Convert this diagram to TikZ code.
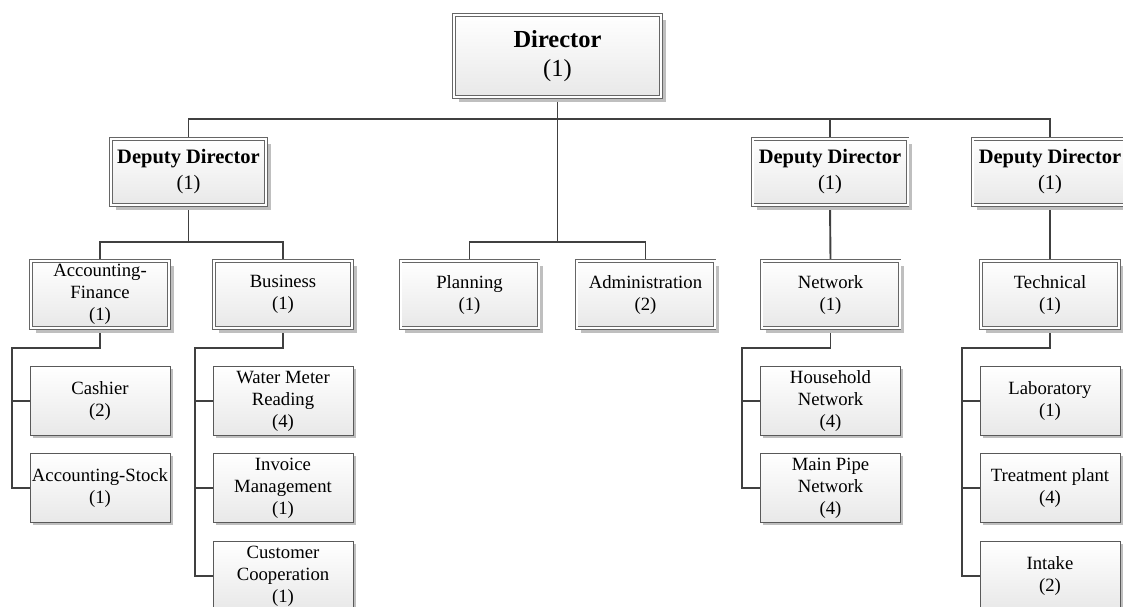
\documentclass[tikz,border=0pt]{standalone}
\usepackage{fontspec}
\setmainfont{Liberation Serif}
\usetikzlibrary{shadows,backgrounds}
\tikzset{
  box/.style={rectangle, align=center, inner sep=0pt, top color=white, bottom color=black!9,
    font=\fontsize{18.7}{22}\selectfont},
  leaf/.style={box, draw=black!65, line width=0.9pt, minimum width=140pt, minimum height=69pt,
    drop shadow={shadow xshift=2.5pt, shadow yshift=-2.5pt, fill=black!25, opacity=1}},
  unit/.style={box, draw=black!60, double=white, double distance=2pt, line width=0.9pt,
    minimum width=138pt, minimum height=67pt,
    drop shadow={shadow xshift=4.5pt, shadow yshift=-4.5pt, fill=black!25, opacity=1}},
  head/.style={unit, minimum width=155pt, minimum height=66pt, font=\fontsize{20.5}{26}\selectfont},
  link/.style={draw=black!75, line width=1.9pt}
}
\begin{document}
\begin{tikzpicture}[x=1pt, y=-1pt]
        \useasboundingbox (0,0) rectangle (1123,606);
        \clip (0,0) rectangle (1123,606);
        \node[unit, minimum width=207pt, minimum height=82pt, font=\fontsize{24.5}{29}\selectfont] (dir) at (557.5,56) {\textbf{Director}\\(1)};
        \node[head] (dep1) at (188.5,172) {\textbf{Deputy Director}\\(1)};
        \node[head, right of=dep1, node distance=641.5pt] (dep2) {\textbf{Deputy Director}\\(1)};
        \node[head, right of=dep2, node distance=220pt] (dep3) {\textbf{Deputy Director}\\(1)};

        \node[unit] (acc) at (100,294.5) {Accounting-\\Finance\\(1)};
        \node[unit, right of=acc, node distance=183pt] (biz) {Business\\(1)};
        \node[unit, right of=biz, node distance=186.5pt] (plan) {Planning\\(1)};
        \node[unit, right of=plan, node distance=176pt] (adm) {Administration\\(2)};
        \node[unit, right of=adm, node distance=185pt] (net) {Network\\(1)};
        \node[unit, right of=net, node distance=219.5pt] (tech) {Technical\\(1)};

        \node[leaf, below of=acc, node distance=106.5pt] (cash) {Cashier\\(2)};
        \node[leaf, below of=cash, node distance=87pt] (stock) {Accounting-Stock\\(1)};
        \node[leaf, below of=biz, node distance=106.5pt] (meter) {Water Meter\\Reading\\(4)};
        \node[leaf, below of=meter, node distance=87pt] (inv) {Invoice\\Management\\(1)};
        \node[leaf, below of=inv, node distance=88pt] (cust) {Customer\\Cooperation\\(1)};
        \node[leaf, below of=net, node distance=106.5pt] (house) {Household\\Network\\(4)};
        \node[leaf, below of=house, node distance=87pt] (pipe) {Main Pipe\\Network\\(4)};
        \node[leaf, below of=tech, node distance=106.5pt] (lab) {Laboratory\\(1)};
        \node[leaf, below of=lab, node distance=87pt] (plant) {Treatment plant\\(4)};
        \node[leaf, below of=plant, node distance=88pt] (intake) {Intake\\(2)};

        \coordinate (top) at (557.5,119);
        \coordinate (mid) at (557.5,242);
        \coordinate (left) at (188.5,242);
        \coordinate (accb) at (12,348);
        \coordinate (bizb) at (195,348);
        \coordinate (netb) at (742,348);
        \coordinate (techb) at (962,348);

        \begin{scope}[on background layer]
        \draw[link] (dir.south) -- (mid);
        \draw[link] (dep1.north) |- (top) -| (dep3.north);
        \draw[link] (top) -| (dep2.north);
        \draw[link] (plan.north) |- (mid) -| (adm.north);
        \draw[link] (dep1.south) -- (left);
        \draw[link] (acc.north) |- (left) -| (biz.north);
        \draw[link] (dep2.south) -- (net.north);
        \draw[link] (dep3.south) -- (tech.north);

        \draw[link] (acc.south) |- (accb) |- (stock.west);
        \draw[link] (accb |- cash.west) -- (cash.west);
        \draw[link] (biz.south) |- (bizb) |- (cust.west);
        \draw[link] (bizb |- meter.west) -- (meter.west);
        \draw[link] (bizb |- inv.west) -- (inv.west);
        \draw[link] (net.south) |- (netb) |- (pipe.west);
        \draw[link] (netb |- house.west) -- (house.west);
        \draw[link] (tech.south) |- (techb) |- (intake.west);
        \draw[link] (techb |- lab.west) -- (lab.west);
        \draw[link] (techb |- plant.west) -- (plant.west);
        \end{scope}
    \end{tikzpicture}
\end{document}
